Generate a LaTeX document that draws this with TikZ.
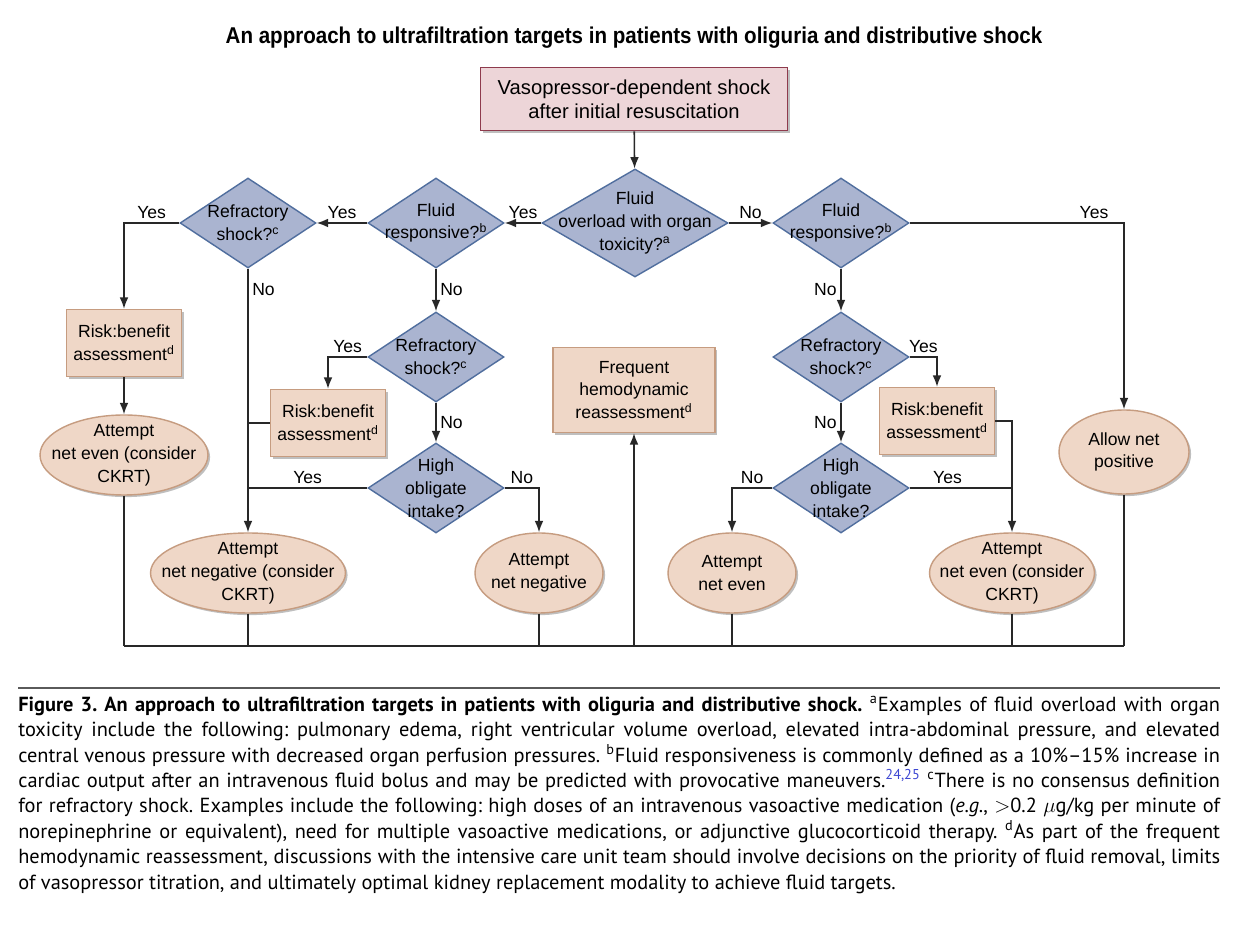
\documentclass[tikz,border=0pt]{standalone}
\usepackage{amsmath, amssymb}
\usepackage[rgb]{xcolor}
\usepackage{fontspec}
\setmainfont{PT Sans}
\newfontfamily\diagfont{Liberation Sans}
\newfontfamily\titlefont[FakeStretch=0.9]{Liberation Sans}
\usepackage{tikz}
\usetikzlibrary{
  % diamonds and ellipses
  shapes.geometric,%
  % enables the soft shadows
  shadows,%
  calc,%
  arrows.meta,
  positioning
}
\definecolor{startfill}{RGB}{237,213,216}
\definecolor{startline}{RGB}{142,59,77}
\definecolor{askfill}{RGB}{170,180,208}
\definecolor{askline}{RGB}{80,110,158}
\definecolor{actfill}{RGB}{239,215,199}
\definecolor{actline}{RGB}{198,156,128}
\definecolor{linegray}{RGB}{40,40,40}
\definecolor{rulegray}{RGB}{90,90,90}
\definecolor{citeblue}{RGB}{60,70,210}
\tikzset{>={Latex[length=6.5pt,width=5pt]}}
\tikzset{font=\diagfont\fontsize{10}{13}\selectfont}
\tikzset{
  every label/.style={align=center, inner sep=0pt},
  boxshadow/.style={drop shadow={shadow xshift=1.2pt, shadow yshift=-1.2pt, opacity=0.25, fill=black}},
  startbox/.style={rectangle, draw=startline, fill=startfill, line width=0.9pt,
    minimum width=6.14cm, minimum height=1.26cm, align=center, boxshadow,
    font=\diagfont\fontsize{11.5}{13.6}\selectfont},
  query/.style={diamond, draw=askline, fill=askfill, line width=0.8pt, inner sep=0pt,
    minimum width=2.72cm, minimum height=1.8cm},
  riskbox/.style={rectangle, draw=actline, fill=actfill, line width=0.8pt, inner sep=0pt,
    minimum width=2.3cm, minimum height=1.34cm, align=center, boxshadow},
  target/.style={ellipse, draw=actline, fill=actfill, line width=0.8pt, inner sep=0pt,
    minimum height=1.6cm, boxshadow},
  flow/.style={->, draw=linegray, line width=0.9pt},
  joint/.style={draw=linegray, line width=0.9pt},
  ans/.style={inner sep=2pt}
}

\begin{document}
\begin{tikzpicture}[x=0.02cm, y=-0.02cm]
  \useasboundingbox (0,0) rectangle (1242,928);
  \fill[white] (0,0) rectangle (1242,928);

  \node[font=\titlefont\bfseries\fontsize{13}{15}\selectfont] (title) at (634,38)
    {An approach to ultrafiltration targets in patients with oliguria and distributive shock};

  % decisions
  \node[startbox] (start) at (634,99) {Vasopressor-dependent shock\\after initial resuscitation};
  \node[query, minimum width=3.72cm, minimum height=2.16cm,
    label={center:Fluid\\overload with organ\\toxicity?\textsuperscript{a}}] (overload) at (635,223) {};
  \node[query, label={center:Fluid\\responsive?\textsuperscript{b}}] (respL) at (436,223) {};
  \node[query, label={center:Refractory\\shock?\textsuperscript{c}}] (refrL) at (248,223) {};
  \node[query, label={center:Fluid\\responsive?\textsuperscript{b}}] (respR) at (841,223) {};
  \node[query, label={center:Refractory\\shock?\textsuperscript{c}}] (refrM) at (436,357) {};
  \node[query, label={center:High\\obligate\\intake?}] (intakeL) at (436,488) {};
  \node[query, label={center:Refractory\\shock?\textsuperscript{c}}] (refrR) at (841,357) {};
  \node[query, label={center:High\\obligate\\intake?}] (intakeR) at (841,488) {};

  % actions
  \node[riskbox] (riskL) at (124,343) {Risk:benefit\\assessment\textsuperscript{d}};
  \node[riskbox] (riskM) at (328,423) {Risk:benefit\\assessment\textsuperscript{d}};
  \node[riskbox] (riskR) at (937,421) {Risk:benefit\\assessment\textsuperscript{d}};
  \node[riskbox, minimum width=3.24cm, minimum height=1.7cm] (freq) at (634,390)
    {Frequent\\hemodynamic\\reassessment\textsuperscript{d}};

  % targets
  \node[target, minimum width=3.36cm, label={center:Attempt\\net even (consider\\CKRT)}] (evenL) at (124,455) {};
  \node[target, minimum width=3.9cm, label={center:Attempt\\net negative (consider\\CKRT)}] (negC) at (248,573) {};
  \node[target, minimum width=2.56cm, label={center:Attempt\\net negative}] (neg) at (539,573) {};
  \node[target, minimum width=2.56cm, label={center:Attempt\\net even}] (even) at (732,573) {};
  \node[target, minimum width=3.3cm, label={center:Attempt\\net even (consider\\CKRT)}] (evenC) at (1012,573) {};
  \node[target, minimum width=2.6cm, minimum height=1.68cm, label={center:Allow net\\positive}] (positive) at (1124,452) {};

  \coordinate (busL) at (124,646);
  \coordinate (busR) at (1124,646);

  % connectors
  \draw[flow] (start) -- (overload);
  \draw[flow] (overload.west) -- node[midway, above, ans] {Yes} (respL.east);
  \draw[flow] (overload.east) -- node[midway, above, ans] {No} (respR.west);
  \draw[flow] (respL.west) -- node[midway, above, ans] {Yes} (refrL.east);
  \draw[flow] (refrL.west) -| node[pos=0.25, above, ans] {Yes} (riskL.north);
  \draw[flow] (riskL) -- (evenL);
  \draw[flow] (refrL.south) -- node[pos=0.08, right, ans] {No} (negC.north);
  \draw[flow] (respL.south) -- node[midway, right, ans] {No} (refrM.north);
  \draw[flow] (refrM.west) -| node[pos=0.25, above, ans] {Yes} (riskM.north);
  \draw[joint] (riskM.west) -- (refrL.south |- riskM.west);
  \draw[flow] (refrM.south) -- node[midway, right, ans] {No} (intakeL.north);
  \draw[joint] (intakeL.west) -- node[midway, above, ans] {Yes} (refrL.south |- intakeL.west);
  \draw[flow] (intakeL.east) -| node[pos=0.25, above, ans] {No} (neg.north);

  \draw[flow] (respR.east) -| node[pos=0.43, above, ans] {Yes} (positive.north);
  \draw[flow] (respR.south) -- node[midway, left, ans] {No} (refrR.north);
  \draw[flow] (refrR.east) -| node[pos=0.25, above, ans] {Yes} (riskR.north);
  \draw[flow] (refrR.south) -- node[midway, left, ans] {No} (intakeR.north);
  \draw[flow] (intakeR.west) -| node[pos=0.25, above, ans] {No} (even.north);
  \draw[joint] (intakeR.east) -- node[pos=0.37, above, ans] {Yes} (evenC.north |- intakeR.east);
  \draw[flow] (riskR.east) -| (evenC.north);

  % common return line
  \draw[joint] (evenL.south) -- (evenL.south |- busL);
  \draw[joint] (negC.south) -- (negC.south |- busL);
  \draw[joint] (neg.south) -- (neg.south |- busL);
  \draw[joint] (even.south) -- (even.south |- busL);
  \draw[joint] (evenC.south) -- (evenC.south |- busL);
  \draw[joint] (positive.south) -- (positive.south |- busL);
  \draw[joint] (busL) -- (busR);
  \draw[flow] (freq.south |- busL) -- (freq.south);

  % caption
  \coordinate (ruleL) at (18,688);
  \coordinate (ruleR) at (1220,688);
  \draw[rulegray, line width=1pt] (ruleL) -- (ruleR);
  \node[anchor=north west, inner sep=0pt, text width=24.04cm, align=justify,
    font=\rmfamily\fontsize{11.6}{14.46}\selectfont]
    (caption) at (18,696)
    {\frenchspacing\hyphenpenalty=10000 \exhyphenpenalty=10000 \tolerance=9999
    \textbf{Figure 3. An approach to ultrafiltration targets in patients with oliguria and distributive shock.} \textsuperscript{a}Examples of fluid overload with organ\linebreak
    toxicity include the following: pulmonary edema, right ventricular volume overload, elevated intra-abdominal pressure, and elevated\linebreak
    central venous pressure with decreased organ perfusion pressures. \textsuperscript{b}Fluid responsiveness is commonly defined as a 10\%--15\% increase in\linebreak
    cardiac output after an intravenous fluid bolus and may be predicted with provocative maneuvers.\textsuperscript{\color{citeblue}24,25} \textsuperscript{c}There is no consensus definition\linebreak
    for refractory shock. Examples include the following: high doses of an intravenous vasoactive medication (\textit{e.g.}, $>$0.2 $\mu$g/kg per minute of\linebreak
    norepinephrine or equivalent), need for multiple vasoactive medications, or adjunctive glucocorticoid therapy. \textsuperscript{d}As part of the frequent\linebreak
    hemodynamic reassessment, discussions with the intensive care unit team should involve decisions on the priority of fluid removal, limits\linebreak
    of vasopressor titration, and ultimately optimal kidney replacement modality to achieve fluid targets.};
\end{tikzpicture}
\end{document}
